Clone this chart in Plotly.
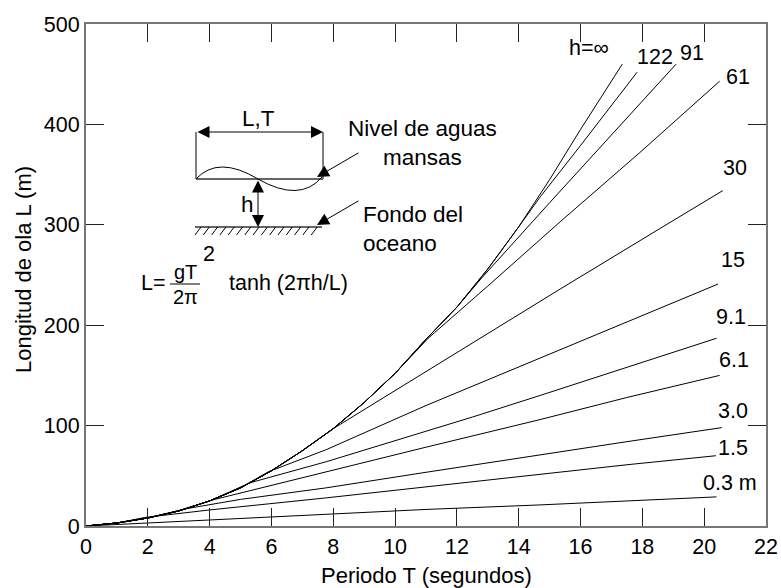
import plotly.graph_objects as go

# ---------------- data ----------------
# Period T (s) and wave length L (m) for each water depth h
depth_labels = ["h=∞", "122", "91", "61", "30", "15", "9.1", "6.1", "3.0", "1.5", "0.3 m"]

T_inf = [0, 1, 2, 3, 4, 5, 6, 7, 8, 9, 10, 11, 12, 13, 14, 15, 16, 17.35]
L_inf = [0, 3, 8, 15, 25, 38, 55, 75, 97, 123, 152, 186, 218, 256, 298, 345, 395, 460]

T_122 = [0, 1, 2, 3, 4, 5, 6, 7, 8, 9, 10, 11, 12, 13, 14, 14.7, 16, 17.83]
L_122 = [0, 3, 8, 15, 25, 38, 55, 75, 97, 123, 152, 186, 218, 256, 298, 328, 379, 452]

T_91 = [0, 1, 2, 3, 4, 5, 6, 7, 8, 9, 10, 11, 12, 12.8, 15, 17, 19.09]
L_91 = [0, 3, 8, 15, 25, 38, 55, 75, 97, 123, 152, 186, 218, 247, 322, 389, 460]

T_61 = [0, 1, 2, 3, 4, 5, 6, 7, 8, 9, 10, 11.07, 13, 15.34, 17.92, 20.5]
L_61 = [0, 3, 8, 15, 25, 38, 55, 75, 97, 123, 152, 187, 239, 303, 372, 443]

T_30 = [0, 1, 2, 3, 4, 5, 6, 7, 8, 10, 12.5, 15.34, 18.5, 20.6]
L_30 = [0, 3, 8, 15, 25, 38, 55, 75, 97, 135, 182, 236, 295, 334]

T_15 = [0, 1, 2, 3, 4, 5, 5.9, 7.77, 11, 14.69, 17.5, 20.45]
L_15 = [0, 3, 8, 15, 25, 38, 54, 76, 120, 167, 203, 241]

T_9 = [0, 1, 2, 3, 4, 5.3, 7.77, 10, 12.5, 14.69, 17.5, 20.4]
L_9 = [0, 3, 8, 15, 25, 43, 64, 85, 108.5, 130, 158, 187]

T_6 = [0, 1, 2, 3, 4.1, 7.77, 11, 14.69, 17.5, 20.5]
L_6 = [0, 3, 8, 15, 26, 54, 78.5, 106, 128, 150]

T_3 = [0, 1, 2, 3.2, 5, 7.77, 11, 14.69, 17.5, 20.57]
L_3 = [0, 3, 8, 17, 26.5, 38, 53.5, 71, 84, 98]

T_15m = [0, 1, 1.9, 4, 7.77, 11, 14.69, 17.5, 20.38]
L_15m = [0, 3, 8.5, 16, 28, 39, 51, 61, 70]

T_03 = [0, 2, 4, 7.77, 11, 14.69, 20.4]
L_03 = [0, 3, 6, 12, 16.5, 21, 29]

x_ticks = [0, 2, 4, 6, 8, 10, 12, 14, 16, 18, 20, 22]
y_ticks = [0, 100, 200, 300, 400, 500]

curves = [(T_inf, L_inf), (T_122, L_122), (T_91, L_91), (T_61, L_61), (T_30, L_30),
          (T_15, L_15), (T_9, L_9), (T_6, L_6), (T_3, L_3), (T_15m, L_15m), (T_03, L_03)]

# ---------------- layout helpers (pixel -> data) ----------------
W, H = 781, 588
ML, MR, MT, MB = 86, 15, 24, 62
X0, X1, Y0, Y1 = 0, 22, 0, 500
PW, PH = W - ML - MR, H - MT - MB


def X(px):
    return X0 + (px - ML) / PW * (X1 - X0)


def Y(py):
    return Y0 + (H - MB - py) / PH * (Y1 - Y0)


FONT = "Liberation Sans, Arial, sans-serif"
FS_TICK = 21.5
FS_LBL = 21.5
FS_TXT = 22.5
FS_TITLE = 22

fig = go.Figure()
for t, l in curves:
    fig.add_trace(go.Scatter(x=t, y=l, mode="lines", line=dict(color="black", width=1),
                             showlegend=False, hoverinfo="skip"))

annotations = []
shapes = []

# curve labels
label_px = [(589, 48), (655, 57), (692, 53), (738, 77), (735, 168), (733, 260),
            (731, 317), (734, 360), (733, 411), (733, 448), (730, 483)]
for txt, (px, py) in zip(depth_labels, label_px):
    annotations.append(dict(x=X(px), y=Y(py), text=txt, showarrow=False,
                            font=dict(size=FS_LBL, color="black", family=FONT),
                            xanchor="center", yanchor="middle"))

# ---- inset sketch ----
gray = "#666666"


def seg(x0, y0, x1, y1, color="black", width=1):
    shapes.append(dict(type="line", xref="x", yref="y", x0=X(x0), y0=Y(y0), x1=X(x1), y1=Y(y1),
                       line=dict(color=color, width=width)))


seg(196, 132, 196, 179)
seg(323, 132, 323, 179)
seg(196, 179, 323, 179, gray, 2)
seg(195, 227, 322, 227, gray, 2)
hx = 195.0
while hx <= 314:
    seg(hx, 235, hx + 6, 227, "black", 1)
    hx += 8.3

# wave
path = "M {},{} Q {},{} {},{} Q {},{} {},{}".format(
    X(196), Y(179), X(218), Y(155), X(258), Y(179), X(300), Y(203), X(322), Y(177))
shapes.append(dict(type="path", xref="x", yref="y", path=path, line=dict(color="black", width=1)))


def arrow(xh, yh, xt, yt, both=False):
    annotations.append(dict(x=X(xh), y=Y(yh), ax=X(xt), ay=Y(yt), xref="x", yref="y",
                            axref="x", ayref="y", text="", showarrow=True, arrowhead=2,
                            startarrowhead=2, arrowsize=2.4, startarrowsize=2.4,
                            arrowwidth=1, arrowcolor="black",
                            arrowside="end+start" if both else "end"))


arrow(323, 132, 196, 132, both=True)
arrow(258, 227, 258, 179, both=True)
arrow(317, 177, 360, 152)
arrow(317, 225, 360, 200)


def text(px, py, s, xanchor="center", align="center", size=FS_TXT):
    annotations.append(dict(x=X(px), y=Y(py), text=s, showarrow=False, xanchor=xanchor,
                            yanchor="middle", align=align, borderpad=0,
                            font=dict(size=size, color="black", family=FONT)))


text(258, 118, "L,T")
text(247, 204, "h")
text(422, 143, "Nivel de aguas<br>mansas")
text(362, 229, "Fondo del<br>oceano", xanchor="left", align="left")
# formula
text(167, 283, "L=", xanchor="right", size=FS_LBL)
text(185, 272, "gT", size=20)
text(185, 297, "2π", size=20)
text(209, 254, "2", size=FS_LBL)
text(228, 283, "tanh (2πh/L)", xanchor="left", size=FS_LBL)
seg(170, 284, 200, 284, "black", 1)

# axis titles
annotations.append(dict(xref="paper", yref="paper", x=0.5, y=0, yshift=-(575 - (H - MB)),
                        text="Periodo T (segundos)", showarrow=False, xanchor="center",
                        yanchor="middle", font=dict(size=FS_TITLE, color="black", family=FONT)))
annotations.append(dict(xref="paper", yref="paper", x=0, xshift=23 - ML, y=(H - MB - 270) / PH,
                        text="Longitud de ola L (m)", showarrow=False, textangle=-90,
                        xanchor="center", yanchor="middle",
                        font=dict(size=FS_TITLE, color="black", family=FONT)))

axis_common = dict(showgrid=False, zeroline=False, showline=True, linecolor="#777777",
                   linewidth=2, mirror="ticks", ticks="inside", ticklen=18, tickwidth=1.3,
                   tickcolor="#222222", automargin=False,
                   tickfont=dict(size=FS_TICK, color="black", family=FONT))

fig.update_layout(
    width=W, height=H, margin=dict(l=ML, r=MR, t=MT, b=MB, pad=0, autoexpand=False),
    paper_bgcolor="white", plot_bgcolor="white",
    xaxis=dict(range=[X0, X1], tickvals=x_ticks, ticktext=[str(v) for v in x_ticks], **axis_common),
    yaxis=dict(range=[Y0, Y1], tickvals=y_ticks, ticktext=[str(v) for v in y_ticks], **axis_common),
    annotations=annotations, shapes=shapes, font=dict(family=FONT),
)

fig.write_html("out.html")
